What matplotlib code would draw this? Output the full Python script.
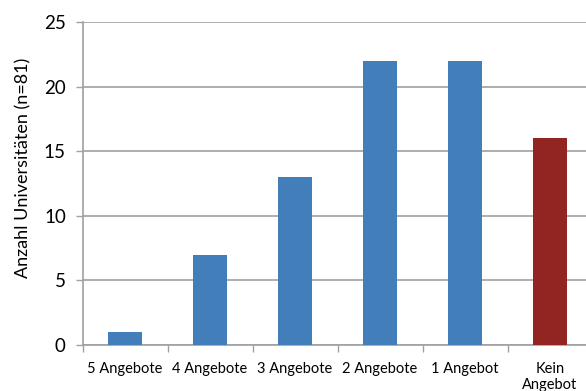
import matplotlib.pyplot as plt

# Anzahl Universitäten nach Anzahl der Angebote
kategorien = ['5 Angebote', '4 Angebote', '3 Angebote', '2 Angebote', '1 Angebot', 'Kein\nAngebot']
anzahl = [1, 7, 13, 22, 22, 16]
farben = ['#427EBA', '#427EBA', '#427EBA', '#427EBA', '#427EBA', '#922522']

plt.rcParams['font.family'] = ['Lato', 'DejaVu Sans']

fig = plt.figure(figsize=(5.86, 3.91), dpi=100)
# right edge runs slightly past the figure border
ax = fig.add_axes([82.5 / 586, 1 - 345 / 391, 510 / 586, 323 / 391])

x = list(range(len(kategorien)))
ax.bar(x, anzahl, width=0.4, color=farben, zorder=3)

ax.set_xlim(-0.5, len(kategorien) - 0.5)
ax.set_ylim(0, 25)
ax.set_yticks([0, 5, 10, 15, 20, 25])
ax.yaxis.grid(True, color='#A0A0A0', linewidth=1.2, zorder=0)

ax.set_xticks(x)
ax.set_xticklabels(kategorien, fontsize=10.5, linespacing=1.25)
ax.set_xticks([i + 0.5 for i in range(-1, len(kategorien))], minor=True)
ax.tick_params(axis='x', which='major', length=0, pad=12)
ax.tick_params(axis='x', which='minor', length=5, width=1, color='#A0A0A0')
ax.tick_params(axis='y', length=5, width=1, color='#A0A0A0', labelsize=13.5, pad=7)

for side in ['top', 'right']:
    ax.spines[side].set_visible(False)
for side in ['left', 'bottom']:
    ax.spines[side].set_color('#A0A0A0')
    ax.spines[side].set_linewidth(1.2)

ax.set_ylabel('Anzahl Universitäten (n=81)', fontsize=13)
ax.yaxis.set_label_coords(-0.1, 0.548)

fig.savefig('out.png', dpi=100)
